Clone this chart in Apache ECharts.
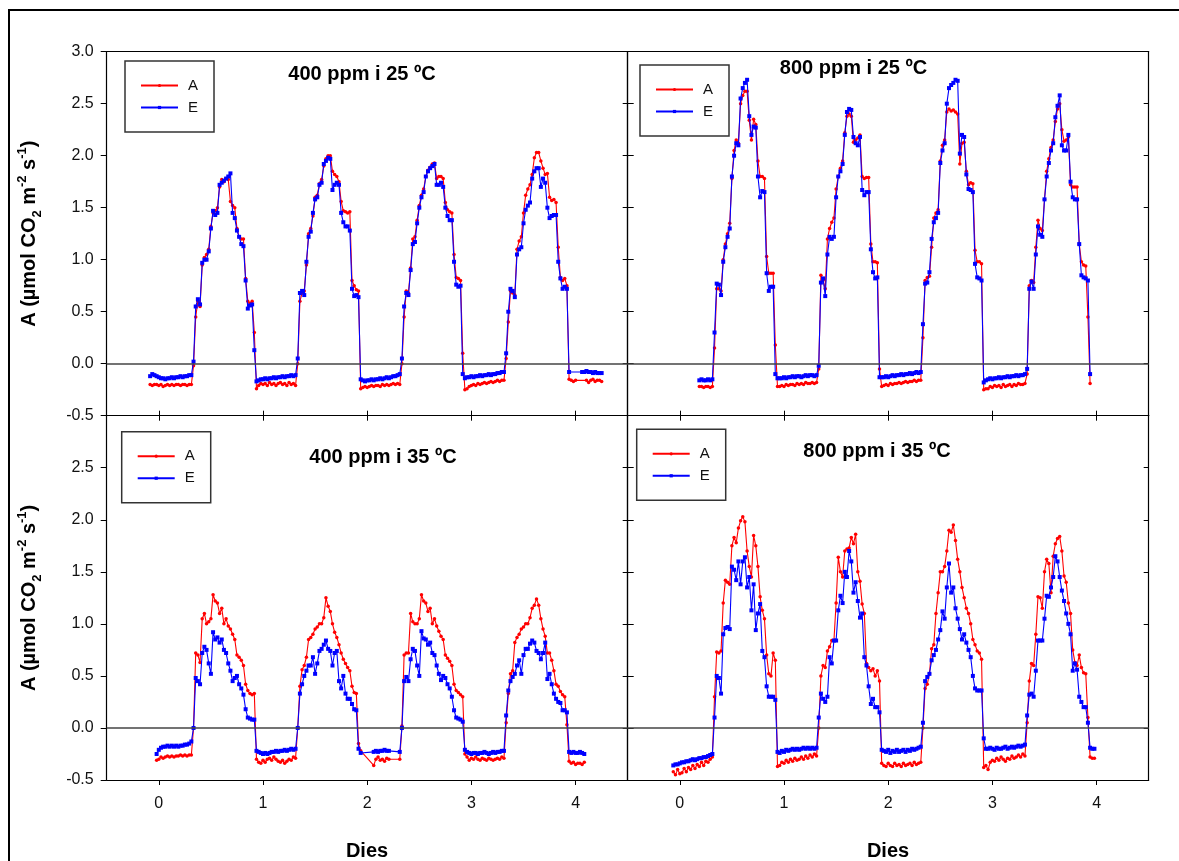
<!DOCTYPE html>
<html><head><meta charset="utf-8">
<script src="https://cdn.jsdelivr.net/npm/echarts@6/dist/echarts.min.js"></script>
<style>html,body{margin:0;padding:0;background:#fff}#c{width:1179px;height:861px}</style>
</head><body><div id="c"></div>
<script>
// ---- data (half-hour samples; x = (start + i) / 48 days) ----
const STEP = 1 / 48;
const xTickValues = [0, 1, 2, 3, 4];
const panelTitles = ['400 ppm i 25 ºC', '800 ppm i 25 ºC', '400 ppm i 35 ºC', '800 ppm i 35 ºC'];
const seriesNames = ['A', 'E'];
const xAxisTitle = 'Dies';

// 400 ppm i 25 ºC
const tlStart = -4;
const tlA = [
 -0.2,-0.21,-0.2,-0.2,-0.21,-0.2,-0.22,-0.21,-0.2,-0.21,-0.2,-0.21,-0.2,-0.2,-0.21,-0.2,-0.2,-0.21,-0.2,-0.2,
 -0.02,0.45,0.6,0.55,0.95,1.02,1.05,1.1,1.32,1.45,1.47,1.5,1.7,1.77,1.75,1.78,1.77,1.56,1.52,1.5,1.3,1.22,1.2,1.2,0.82,0.6,0.58,0.6,0.3,-0.24,
 -0.21,-0.19,-0.2,-0.19,-0.21,-0.18,-0.2,-0.19,-0.21,-0.19,-0.18,-0.2,-0.19,-0.21,-0.18,-0.2,-0.19,-0.21,
 0.0,0.6,0.68,0.7,0.95,1.25,1.3,1.42,1.6,1.62,1.73,1.77,1.9,1.97,2.0,2.0,1.85,1.82,1.8,1.75,1.56,1.47,1.46,1.45,1.46,0.8,0.75,0.71,0.7,-0.24,
 -0.23,-0.22,-0.23,-0.22,-0.21,-0.22,-0.21,-0.21,-0.22,-0.2,-0.21,-0.2,-0.21,-0.2,-0.19,-0.2,-0.19,-0.2,
 0.0,0.45,0.7,0.68,0.92,1.2,1.22,1.38,1.52,1.62,1.68,1.8,1.86,1.89,1.92,1.93,1.78,1.8,1.8,1.78,1.55,1.48,1.46,1.45,1.05,0.83,0.82,0.8,0.1,-0.25,
 -0.24,-0.22,-0.21,-0.2,-0.21,-0.19,-0.2,-0.19,-0.18,-0.19,-0.18,-0.17,-0.18,-0.17,-0.16,-0.17,-0.16,-0.16,
 0.05,0.4,0.7,0.68,0.66,1.1,1.18,1.22,1.45,1.62,1.68,1.72,1.82,1.98,2.03,2.03,1.95,1.88,1.82,1.83,1.6,1.57,1.58,1.55,1.12,0.83,0.8,0.82,0.75,-0.15,
 -0.16,-0.17,-0.16,null,null,null,null,-0.16,-0.18,-0.16,-0.15,-0.17,-0.16,-0.16,-0.17
];
const tlE = [
 -0.12,-0.1,-0.11,-0.12,-0.13,-0.14,-0.14,-0.15,-0.14,-0.14,-0.13,-0.14,-0.13,-0.13,-0.12,-0.13,-0.12,-0.12,-0.11,-0.11,
 0.02,0.55,0.62,0.57,0.97,1.0,1.0,1.08,1.3,1.47,1.43,1.45,1.72,1.74,1.76,1.78,1.8,1.83,1.45,1.4,1.28,1.22,1.15,1.13,0.8,0.53,0.56,0.57,0.13,-0.17,
 -0.16,-0.15,-0.15,-0.14,-0.15,-0.14,-0.14,-0.13,-0.14,-0.13,-0.13,-0.12,-0.13,-0.12,-0.12,-0.11,-0.12,-0.11,
 0.05,0.68,0.7,0.66,0.98,1.22,1.27,1.45,1.58,1.6,1.72,1.74,1.92,1.95,1.98,1.97,1.67,1.72,1.74,1.72,1.45,1.36,1.32,1.32,1.28,0.72,0.65,0.66,0.64,-0.15,
 -0.16,-0.17,-0.16,-0.16,-0.15,-0.16,-0.15,-0.15,-0.14,-0.15,-0.14,-0.13,-0.14,-0.13,-0.12,-0.12,-0.11,-0.1,
 0.05,0.55,0.68,0.66,0.9,1.15,1.17,1.35,1.5,1.6,1.65,1.8,1.85,1.88,1.9,1.92,1.72,1.72,1.74,1.7,1.5,1.42,1.38,1.38,0.98,0.76,0.74,0.75,-0.1,-0.14,
 -0.13,-0.13,-0.12,-0.13,-0.12,-0.12,-0.11,-0.12,-0.11,-0.11,-0.1,-0.11,-0.1,-0.1,-0.09,-0.09,-0.08,-0.08,
 0.1,0.5,0.72,0.7,0.64,1.05,1.1,1.12,1.35,1.48,1.52,1.55,1.78,1.85,1.88,1.88,1.7,1.78,1.74,1.5,1.4,1.42,1.43,1.43,0.98,0.82,0.72,0.74,0.72,-0.08,
 null,null,null,null,null,-0.08,-0.08,-0.07,-0.08,-0.08,-0.09,-0.08,-0.09,-0.09,-0.09
];

// 800 ppm i 25 ºC
const trStart = 9;
const trA = [
 -0.22,-0.22,-0.23,-0.22,-0.22,-0.23,-0.22,
 0.15,0.72,0.72,0.7,1.0,1.15,1.25,1.35,1.78,2.05,2.15,2.12,2.5,2.58,2.62,2.62,2.34,2.15,2.35,2.3,1.95,1.8,1.8,1.78,1.03,0.87,0.87,0.87,0.18,-0.22,
 -0.22,-0.21,-0.22,-0.2,-0.21,-0.2,-0.2,-0.21,-0.19,-0.2,-0.19,-0.2,-0.18,-0.19,-0.19,-0.18,-0.19,-0.18,
 -0.05,0.85,0.8,0.72,1.2,1.3,1.36,1.4,1.68,1.8,1.88,1.95,2.22,2.38,2.4,2.38,2.13,2.15,2.17,2.2,1.8,1.78,1.79,1.79,1.15,0.98,0.98,0.97,-0.05,-0.22,
 -0.21,-0.2,-0.21,-0.19,-0.2,-0.19,-0.19,-0.18,-0.19,-0.18,-0.17,-0.18,-0.17,-0.17,-0.16,-0.17,-0.16,-0.16,
 0.25,0.8,0.83,0.84,1.12,1.4,1.45,1.48,1.95,2.1,2.15,2.42,2.45,2.43,2.44,2.42,2.4,1.92,2.12,2.13,1.85,1.72,1.74,1.73,1.09,0.98,0.98,0.96,-0.25,-0.24,
 -0.24,-0.22,-0.23,-0.21,-0.22,-0.21,-0.23,-0.2,-0.22,-0.21,-0.2,-0.22,-0.2,-0.21,-0.19,-0.2,-0.2,-0.19,
 -0.1,0.75,0.8,0.78,1.12,1.38,1.3,1.28,1.58,1.85,1.97,2.08,2.15,2.33,2.45,2.5,2.25,2.14,2.15,2.18,1.72,1.7,1.7,1.7,1.15,0.98,0.95,0.94,0.45,-0.19
];
const trE = [
 -0.16,-0.15,-0.16,-0.16,-0.15,-0.16,-0.15,
 0.3,0.77,0.76,0.66,0.98,1.12,1.22,1.3,1.8,2.0,2.12,2.1,2.55,2.65,2.7,2.73,2.38,2.2,2.28,2.27,1.8,1.6,1.66,1.65,0.87,0.7,0.74,0.74,-0.1,-0.14,
 -0.14,-0.14,-0.13,-0.14,-0.13,-0.13,-0.12,-0.13,-0.12,-0.12,-0.13,-0.12,-0.11,-0.12,-0.11,-0.11,-0.12,-0.11,
 -0.02,0.78,0.82,0.65,1.05,1.22,1.2,1.22,1.6,1.8,1.85,1.92,2.2,2.42,2.45,2.44,2.18,2.12,2.1,2.18,1.67,1.62,1.65,1.65,1.1,0.88,0.82,0.83,-0.13,-0.13,
 -0.13,-0.12,-0.13,-0.12,-0.11,-0.12,-0.11,-0.11,-0.1,-0.11,-0.1,-0.1,-0.09,-0.1,-0.09,-0.08,-0.09,-0.08,
 0.38,0.77,0.78,0.88,1.2,1.36,1.4,1.45,1.93,2.05,2.12,2.5,2.65,2.68,2.7,2.73,2.72,2.02,2.2,2.18,1.82,1.68,1.67,1.65,0.96,0.83,0.82,0.8,-0.18,-0.16,
 -0.15,-0.14,-0.15,-0.14,-0.14,-0.13,-0.14,-0.13,-0.13,-0.12,-0.13,-0.12,-0.12,-0.11,-0.12,-0.11,-0.11,-0.1,
 -0.05,0.72,0.79,0.72,1.05,1.32,1.24,1.22,1.58,1.8,1.93,2.05,2.12,2.37,2.48,2.58,2.1,2.05,2.05,2.2,1.75,1.6,1.58,1.58,1.15,0.85,0.83,0.82,0.8,-0.1
];

// 400 ppm i 35 ºC
const blStart = -1;
const blA = [
 -0.31,-0.3,-0.28,-0.29,-0.28,-0.27,-0.28,-0.27,-0.28,-0.27,-0.27,-0.26,-0.27,-0.26,-0.27,-0.26,-0.26,
 0.0,0.72,0.7,0.63,1.05,1.1,1.0,1.02,1.05,1.28,1.22,1.2,1.1,1.15,1.0,1.05,0.98,0.95,0.9,0.85,0.7,0.68,0.65,0.6,0.42,0.36,0.33,0.32,0.33,-0.3,
 -0.33,-0.34,-0.31,-0.33,-0.3,-0.29,-0.31,-0.28,-0.3,-0.32,-0.33,-0.31,-0.34,-0.32,-0.3,-0.31,-0.28,-0.29,
 0.0,0.4,0.56,0.6,0.68,0.85,0.87,0.9,0.95,0.97,1.0,1.0,1.06,1.25,1.17,1.12,1.0,0.92,0.87,0.8,0.72,0.66,0.62,0.58,0.55,0.4,0.34,0.33,-0.15,-0.22,
 null,null,null,null,null,-0.36,-0.3,-0.28,-0.31,-0.3,-0.32,-0.29,-0.3,null,null,null,null,-0.3,
 0.02,0.7,0.72,0.72,1.1,1.02,1.0,1.0,1.05,1.28,1.22,1.2,1.12,1.15,1.0,1.05,0.98,0.93,0.88,0.85,0.7,0.67,0.64,0.6,0.42,0.36,0.34,0.32,0.3,-0.25,
 -0.28,-0.31,-0.29,-0.3,-0.28,-0.3,-0.31,-0.29,-0.3,-0.31,-0.29,-0.3,-0.31,-0.3,-0.29,-0.3,-0.28,-0.29,
 0.05,0.33,0.52,0.55,0.82,0.87,0.9,0.95,0.97,1.0,1.0,1.06,1.15,1.18,1.24,1.18,1.05,0.95,0.88,0.72,0.72,0.65,0.55,0.42,0.4,0.35,0.32,0.3,0.03,-0.32,
 -0.34,-0.33,-0.35,-0.34,-0.34,-0.35,-0.33
];
const blE = [
 -0.25,-0.21,-0.19,-0.18,-0.18,-0.17,-0.18,-0.17,-0.18,-0.17,-0.18,-0.17,-0.17,-0.16,-0.16,-0.15,-0.13,
 0.0,0.48,0.45,0.42,0.72,0.78,0.75,0.62,0.52,0.92,0.85,0.87,0.82,0.85,0.75,0.72,0.62,0.55,0.45,0.48,0.5,0.42,0.38,0.32,0.18,0.1,0.09,0.08,0.08,-0.22,
 -0.23,-0.24,-0.25,-0.24,-0.25,-0.24,-0.23,-0.23,-0.22,-0.23,-0.22,-0.22,-0.21,-0.22,-0.21,-0.2,-0.21,-0.2,
 0.0,0.33,0.42,0.5,0.55,0.6,0.6,0.68,0.52,0.62,0.74,0.76,0.8,0.84,0.76,0.74,0.6,0.72,0.74,0.45,0.38,0.5,0.33,0.28,0.28,0.23,0.18,0.17,-0.2,-0.24,
 null,null,null,null,null,-0.23,-0.22,-0.23,-0.22,-0.22,-0.21,-0.22,-0.22,null,null,null,null,-0.23,
 0.0,0.45,0.49,0.45,0.66,0.76,0.74,0.6,0.5,0.93,0.86,0.85,0.8,0.82,0.72,0.7,0.6,0.52,0.46,0.5,0.48,0.42,0.38,0.3,0.17,0.1,0.09,0.08,0.06,-0.21,
 -0.23,-0.24,-0.25,-0.24,-0.24,-0.25,-0.24,-0.24,-0.23,-0.24,-0.25,-0.24,-0.23,-0.24,-0.23,-0.23,-0.22,-0.22,
 0.12,0.36,0.45,0.49,0.52,0.6,0.65,0.52,0.7,0.76,0.76,0.81,0.84,0.82,0.74,0.72,0.66,0.72,0.82,0.47,0.52,0.42,0.33,0.28,0.25,0.24,0.17,0.17,0.15,-0.23,
 -0.24,-0.23,-0.24,-0.24,-0.23,-0.24,-0.25
];

// 800 ppm i 35 ºC
const brStart = -3;
const brA = [
 -0.42,-0.45,-0.4,-0.44,-0.43,-0.39,-0.42,-0.38,-0.4,-0.36,-0.39,-0.35,-0.37,-0.33,-0.36,-0.32,-0.33,-0.3,-0.28,
 0.3,0.73,0.72,0.74,1.2,1.42,1.4,1.38,1.75,1.83,1.78,1.92,1.99,2.03,1.98,1.7,1.55,1.45,1.85,1.75,1.55,1.26,1.13,1.05,0.7,0.52,0.5,0.72,0.65,-0.37,
 -0.36,-0.33,-0.34,-0.31,-0.33,-0.3,-0.32,-0.29,-0.31,-0.3,-0.28,-0.3,-0.27,-0.29,-0.26,-0.28,-0.25,-0.27,
 0.0,0.5,0.6,0.58,0.74,0.78,0.84,0.84,1.2,1.64,1.5,1.45,1.7,1.72,1.73,1.83,1.77,1.86,1.5,1.41,1.19,1.1,0.62,0.58,0.55,0.57,0.5,0.55,0.45,-0.34,
 -0.36,-0.37,-0.34,-0.36,-0.37,-0.34,-0.36,-0.35,-0.37,-0.34,-0.36,-0.35,-0.34,-0.36,-0.33,-0.35,-0.34,-0.33,
 0.0,0.38,0.42,0.52,0.76,0.8,1.1,1.3,1.5,1.5,1.55,1.7,1.9,1.88,1.95,1.8,1.62,1.5,1.35,1.25,1.15,1.1,1.0,0.85,0.8,0.74,0.72,0.66,-0.38,-0.36,
 -0.4,-0.33,-0.31,-0.32,-0.29,-0.31,-0.28,-0.3,-0.32,-0.29,-0.3,-0.27,-0.29,-0.28,-0.26,-0.28,-0.25,-0.27,
 0.05,0.45,0.62,0.6,0.9,1.26,1.25,1.15,1.5,1.62,1.58,1.3,1.65,1.77,1.82,1.84,1.7,1.46,1.4,1.2,1.1,0.75,0.63,0.6,0.7,0.58,0.53,0.52,0.1,-0.28,-0.29,-0.29
];
const brE = [
 -0.36,-0.35,-0.35,-0.34,-0.33,-0.33,-0.32,-0.32,-0.31,-0.3,-0.31,-0.3,-0.29,-0.29,-0.28,-0.28,-0.27,-0.26,-0.25,
 0.1,0.5,0.48,0.33,0.9,0.96,0.97,0.95,1.55,1.52,1.42,1.6,1.38,1.6,1.64,1.35,1.45,1.13,1.38,0.94,1.1,1.19,0.74,0.68,0.4,0.3,0.3,0.3,0.27,-0.23,
 -0.24,-0.22,-0.23,-0.21,-0.22,-0.21,-0.2,-0.21,-0.2,-0.21,-0.2,-0.19,-0.2,-0.19,-0.2,-0.19,-0.2,-0.19,
 0.1,0.33,0.28,0.25,0.3,0.68,0.62,0.84,0.84,1.13,1.27,1.2,1.5,1.45,1.7,1.6,1.3,1.4,1.22,1.06,1.1,0.68,0.6,0.4,0.23,0.28,0.2,0.2,0.15,-0.21,
 -0.22,-0.23,-0.21,-0.24,-0.22,-0.23,-0.21,-0.23,-0.22,-0.21,-0.23,-0.21,-0.22,-0.2,-0.21,-0.2,-0.19,-0.18,
 0.05,0.45,0.49,0.52,0.65,0.7,0.75,0.85,0.94,1.12,1.05,1.35,1.58,1.3,1.35,1.15,1.05,0.95,0.85,0.9,0.82,0.75,0.68,0.5,0.38,0.36,0.36,0.36,-0.1,-0.2,
 -0.2,-0.19,-0.2,-0.21,-0.19,-0.2,-0.2,-0.19,-0.18,-0.2,-0.19,-0.18,-0.19,-0.18,-0.17,-0.18,-0.17,-0.16,
 0.12,0.32,0.33,0.3,0.55,0.84,0.84,0.84,1.05,1.27,1.26,1.35,1.45,1.65,1.6,1.45,1.32,1.22,1.1,1.0,0.9,0.55,0.62,0.56,0.3,0.25,0.2,0.2,0.05,-0.19,-0.2,-0.2
];

// ---- layout / styles ----
const FONT = '"Liberation Sans", Arial, sans-serif';
const RED = '#ff0000', BLUE = '#0000ff', AXC = '#000';
const grids = [
  { left: 106.7, top: 51.7, width: 521, height: 364 },
  { left: 627.7, top: 51.7, width: 521, height: 364 },
  { left: 106.7, top: 415.7, width: 521, height: 364.3 },
  { left: 627.7, top: 415.7, width: 521, height: 364.3 }
];
const panels = [
  { start: tlStart, A: tlA, E: tlE },
  { start: trStart, A: trA, E: trE },
  { start: blStart, A: blA, E: blE },
  { start: brStart, A: brA, E: brE }
];
const legendPos = [[125, 61], [640, 65], [121.7, 431.7], [636.7, 429.3]];
const titlePos = [[362, 74], [853.5, 68.5], [383, 457.5], [877, 451.5]];

function toXY(start, arr) { return arr.map((v, i) => [(start + i) * STEP, v]); }

const xAxis = [], yAxis = [], series = [], legend = [];
grids.forEach((g, p) => {
  const isLeft = (p % 2 === 0), isBottom = p >= 2;
  const lineSty = { show: true, onZero: false, lineStyle: { color: AXC, width: 1.2 } };
  xAxis.push({
    type: 'value', gridIndex: p, position: 'bottom', min: -0.5, max: 4.5,
    axisLine: lineSty,
    axisTick: { show: true, inside: !isBottom, length: 5, customValues: xTickValues, lineStyle: { color: AXC, width: 1 } },
    axisLabel: { show: isBottom, customValues: xTickValues, fontSize: 16, fontFamily: FONT, color: '#111', margin: 16 },
    splitLine: { show: false }
  });
  xAxis.push({
    type: 'value', gridIndex: p, position: 'top', min: -0.5, max: 4.5,
    axisLine: lineSty,
    axisTick: { show: isBottom, inside: true, length: 5, customValues: xTickValues, lineStyle: { color: AXC, width: 1 } },
    axisLabel: { show: false }, splitLine: { show: false }
  });
  yAxis.push({
    type: 'value', gridIndex: p, position: 'left', min: -0.5, max: 3, interval: 0.5,
    axisLine: lineSty,
    axisTick: { show: true, inside: !isLeft, length: 6, lineStyle: { color: AXC, width: 1 } },
    axisLabel: { show: isLeft, showMaxLabel: !isBottom, fontSize: 16, fontFamily: FONT, color: '#111', margin: 13,
      formatter: v => v.toFixed(1) },
    splitLine: { show: false }
  });
  yAxis.push({
    type: 'value', gridIndex: p, position: 'right', min: -0.5, max: 3, interval: 0.5,
    axisLine: lineSty,
    axisTick: { show: true, inside: true, length: 5, lineStyle: { color: AXC, width: 1 } },
    axisLabel: { show: false }, splitLine: { show: false }
  });
  const pd = panels[p];
  series.push({
    name: seriesNames[0], type: 'line', xAxisIndex: 2 * p, yAxisIndex: 2 * p,
    data: toXY(pd.start, pd.A), connectNulls: true,
    symbol: 'circle', symbolSize: 3.5, showSymbol: true,
    lineStyle: { color: RED, width: 1.1 }, itemStyle: { color: RED },
    z: 2, animation: false,
    markLine: { silent: true, symbol: 'none', label: { show: false }, animation: false,
      lineStyle: { color: '#444', width: 1.5, type: 'solid' }, data: [{ yAxis: 0 }] }
  });
  series.push({
    name: seriesNames[1], type: 'line', xAxisIndex: 2 * p, yAxisIndex: 2 * p,
    data: toXY(pd.start, pd.E), connectNulls: true,
    symbol: 'rect', symbolSize: 4, showSymbol: true,
    lineStyle: { color: BLUE, width: 1.1 }, itemStyle: { color: BLUE },
    z: 3, animation: false
  });
  legend.push({
    data: seriesNames, orient: 'vertical', left: legendPos[p][0], top: legendPos[p][1],
    padding: [17, 16, 17, 15], itemWidth: 37, itemHeight: 4, itemGap: 7,
    borderColor: '#333', borderWidth: 1.5, selectedMode: false,
    textStyle: { fontSize: 15, fontFamily: FONT, color: '#111', padding: [0, 0, 0, 5] }
  });
});

const yTitleRich = {
  b: { fontSize: 20, fontWeight: 'bold', fontFamily: FONT, fill: '#000', lineHeight: 26 },
  sub: { fontSize: 13, fontWeight: 'bold', fontFamily: FONT, fill: '#000', verticalAlign: 'bottom', lineHeight: 14, padding: [0, 0, -2, 0] },
  sup: { fontSize: 13, fontWeight: 'bold', fontFamily: FONT, fill: '#000', verticalAlign: 'top', lineHeight: 14 }
};
const yTitleText = '{b|A (µmol CO}{sub|2}{b| m}{sup|-2}{b| s}{sup|-1}{b|)}';

const graphic = [
  { type: 'rect', silent: true, shape: { x: 9, y: 10, width: 1200, height: 900 }, style: { fill: 'none', stroke: '#000', lineWidth: 2 } }
];
titlePos.forEach((tp, p) => graphic.push({
  type: 'text', silent: true, x: tp[0], y: tp[1],
  style: { text: panelTitles[p], font: 'bold 20px ' + FONT, fill: '#000', align: 'center', verticalAlign: 'middle' }
}));
[233.7, 597.9].forEach(cy => graphic.push({
  type: 'text', silent: true, x: 29, y: cy, rotation: Math.PI / 2,
  style: { text: yTitleText, rich: yTitleRich, align: 'center', verticalAlign: 'middle' }
}));
[367, 888].forEach(cx => graphic.push({
  type: 'text', silent: true, x: cx, y: 851,
  style: { text: xAxisTitle, font: 'bold 20px ' + FONT, fill: '#000', align: 'center', verticalAlign: 'middle' }
}));

const chart = echarts.init(document.getElementById('c'), null, { renderer: 'canvas' });
chart.setOption({
  animation: false,
  backgroundColor: '#fff',
  textStyle: { fontFamily: FONT },
  grid: grids,
  xAxis, yAxis, series, legend, graphic
});
</script></body></html>
